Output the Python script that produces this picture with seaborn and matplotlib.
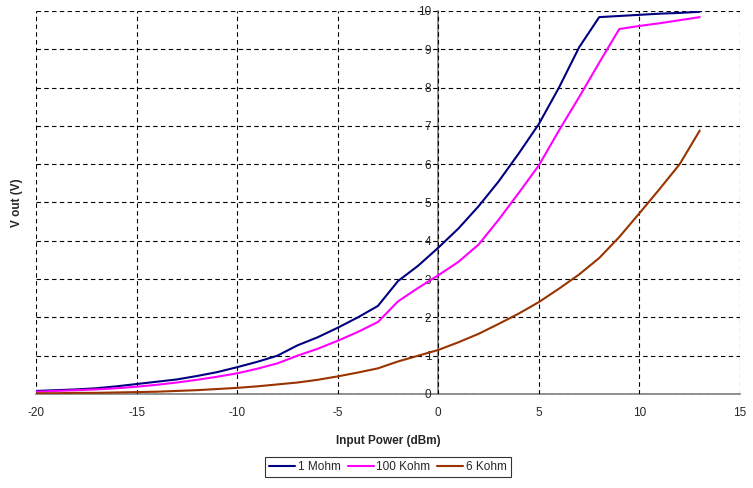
import numpy as np
import pandas as pd
import matplotlib
matplotlib.use("Agg")
import matplotlib.pyplot as plt
import seaborn as sns

# input power (dBm)
power = list(range(-20, 14))

# output voltage (V) per load
v_1mohm = [0.08, 0.10, 0.12, 0.15, 0.20, 0.26, 0.32, 0.38, 0.47, 0.57,
           0.70, 0.84, 1.00, 1.27, 1.48, 1.73, 2.00, 2.30, 2.95, 3.35,
           3.82, 4.32, 4.90, 5.55, 6.28, 7.05, 8.00, 9.05, 9.84, 9.87,
           9.90, 9.93, 9.95, 9.98]
v_100kohm = [0.06, 0.08, 0.10, 0.12, 0.15, 0.19, 0.24, 0.30, 0.37, 0.45,
             0.54, 0.66, 0.80, 1.00, 1.18, 1.39, 1.62, 1.88, 2.42, 2.77,
             3.10, 3.45, 3.90, 4.55, 5.25, 5.97, 6.88, 7.75, 8.65, 9.53,
             9.61, 9.68, 9.76, 9.84]
v_6kohm = [0.02, 0.02, 0.03, 0.03, 0.04, 0.05, 0.06, 0.08, 0.10, 0.13,
           0.16, 0.20, 0.25, 0.30, 0.37, 0.46, 0.56, 0.67, 0.85, 1.00,
           1.15, 1.35, 1.57, 1.83, 2.10, 2.40, 2.75, 3.12, 3.55, 4.10,
           4.72, 5.35, 6.00, 6.88]

labels = ["1 Mohm", "100 Kohm", "6 Kohm"]
colors = ["#000080", "#FF00FF", "#993300"]

df = pd.concat([
    pd.DataFrame({"power": power, "vout": v, "load": lab})
    for v, lab in zip([v_1mohm, v_100kohm, v_6kohm], labels)
])

sns.set_style("white")
plt.rcParams["font.family"] = ["Liberation Sans", "DejaVu Sans"]
plt.rcParams["axes.unicode_minus"] = False

fig = plt.figure(figsize=(7.53, 4.88), dpi=100)
ax = fig.add_axes([36 / 753, 1 - 394 / 488, (740 - 36) / 753, (394 - 11) / 488])

sns.lineplot(data=df, x="power", y="vout", hue="load", palette=colors,
             linewidth=1.5, ax=ax, legend=False)

ax.set_xlim(-20, 15)
ax.set_ylim(0, 10)
ax.set_xticks(range(-20, 16, 5))
ax.set_yticks(range(0, 11))

ax.grid(True, color="black", linestyle=(0, (4, 3)), linewidth=0.8)
ax.set_axisbelow(True)
for g in ax.get_xgridlines() + ax.get_ygridlines():
    g.set_clip_on(False)

ax.spines["top"].set_visible(False)
ax.spines["right"].set_visible(False)
ax.spines["left"].set_position(("data", 0))
ax.spines["bottom"].set_position(("data", 0))
for s in ("left", "bottom"):
    ax.spines[s].set_color("#808080")
    ax.spines[s].set_linewidth(1.2)
    ax.spines[s].set_zorder(0.5)

ax.tick_params(axis="both", direction="out", length=3, width=0.8,
               color="#808080", labelsize=8.5)
ax.tick_params(axis="x", pad=6)
ax.tick_params(axis="y", pad=2)

ax.set_xlabel("Input Power (dBm)", fontsize=8.5, fontweight="bold", labelpad=12)
ax.set_ylabel("V out (V)", fontsize=8.5, fontweight="bold")
ax.yaxis.set_label_coords(-0.018, 0.5)

handles = [plt.Line2D([], [], color=c, lw=1.5) for c in colors]
leg = fig.legend(handles, labels, loc="center", bbox_to_anchor=(388 / 753, 1 - 467 / 488),
                 ncol=3, fontsize=8.5, frameon=True, fancybox=False,
                 handlelength=2.2, handletextpad=0.2, columnspacing=0.6,
                 borderpad=0.35)
leg.get_frame().set_edgecolor("black")
leg.get_frame().set_linewidth(0.8)

fig.savefig("out.png", dpi=100)
